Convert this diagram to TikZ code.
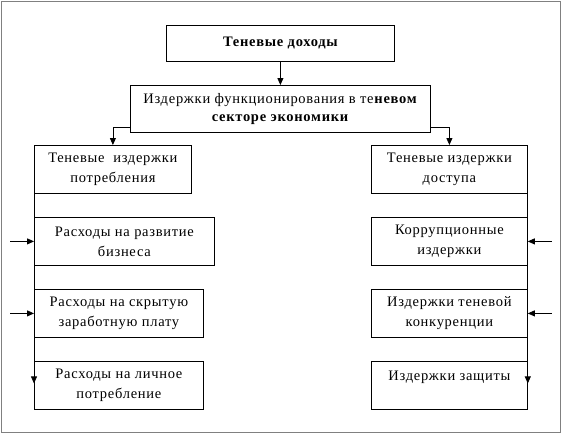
\documentclass[tikz,border=0pt]{standalone}
\usepackage{fontspec}
\setmainfont{Liberation Serif}
\newfontfamily\boxfont{Liberation Serif}[LetterSpace=5]
\usetikzlibrary{arrows.meta, positioning, calc}

\begin{document}
\begin{tikzpicture}[
    x=1pt, y=-1pt,
    >={Triangle[length=7pt, width=6pt]},
    cost/.style={rectangle, draw=black, line width=0.8pt, anchor=north west,
                 minimum height=48pt, inner sep=0pt, align=center,
                 font=\boxfont\fontsize{14.5}{20}\selectfont},
    link/.style={->, line width=0.8pt}
]
\useasboundingbox (0,0) rectangle (562,434);
\draw[black!50, line width=1pt] (1,1) rectangle (560,432);
\node[cost, minimum width=228pt, minimum height=36pt, font=\boxfont\fontsize{14.5}{20}\selectfont\bfseries]
    (income) at (166,25) {Теневые доходы};
\node[cost, minimum width=300pt, minimum height=47pt, font=\boxfont\fontsize{14.5}{18}\selectfont]
    (func) at (130,85) {Издержки функционирования в те\textbf{невом}\\\textbf{секторе экономики}};
% left column
\node[cost, minimum width=157pt] (consum) at (34,145) {Теневые \ издержки\\потребления};
\node[cost, minimum width=180pt] (biz) at (34,217) {Расходы на развитие\\бизнеса};
\node[cost, minimum width=169pt] (wage) at (34,289) {Расходы на скрытую\\заработную плату};
\node[cost, minimum width=169pt] (pers) at (34,361) {Расходы на личное\\потребление};
% right column
\node[cost, minimum width=156pt] (access) at (371,145) {Теневые издержки\\доступа};
\node[cost, minimum width=156pt] (corrupt) at (371,217) {Коррупционные\\издержки};
\node[cost, minimum width=156pt] (compet) at (371,289) {Издержки теневой\\конкуренции};
\node[cost, minimum width=156pt] (protect) at (371,361) {Издержки защиты\\\mbox{}};
\draw[link] (income) -- (func);
\draw[link] ($(func.south west)+(0,-5)$) -| (consum.north);
\draw[link] ($(func.south east)+(0,-5)$) -| (access.north);
\draw[link] (consum.north west) -- ($(pers.west)+(0,-2)$);
\draw[link] (access.north east) -- ($(protect.east)+(0,-2)$);
\foreach \n in {biz,wage} {
    \coordinate (\n-in) at ($(\n.west)+(-24,0)$);
    \draw[link] (\n-in) -- (\n.west);
}
\foreach \n in {corrupt,compet} {
    \coordinate (\n-in) at ($(\n.east)+(24,0)$);
    \draw[link] (\n-in) -- (\n.east);
}
\end{tikzpicture}
\end{document}
